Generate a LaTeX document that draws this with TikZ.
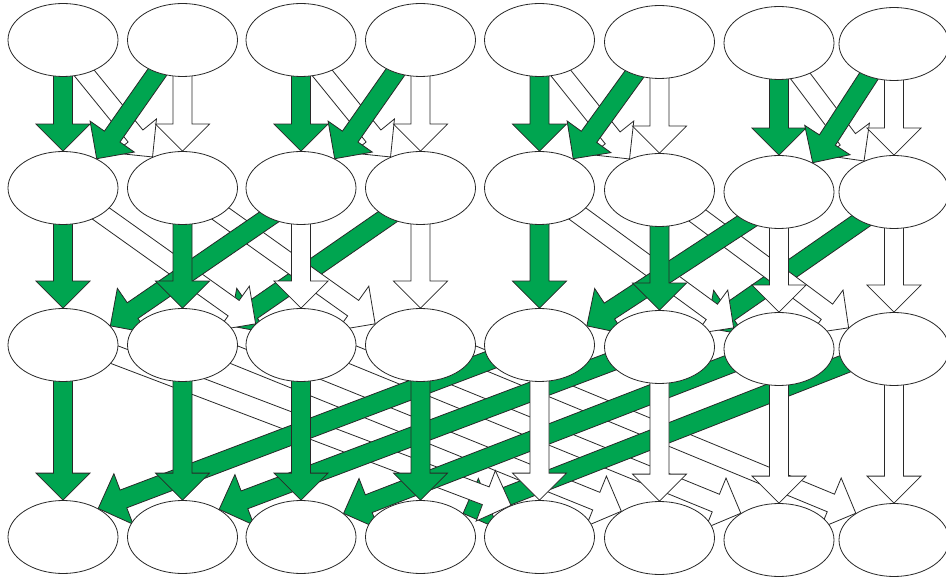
\documentclass[tikz,border=0pt]{standalone}
\usetikzlibrary{shapes.geometric,calc}
\definecolor{grn}{RGB}{0,165,80}
\definecolor{edgec}{RGB}{40,40,40}
\pgfdeclarelayer{bg}
\pgfsetlayers{bg,main}
\tikzset{
  cell/.style={ellipse, draw=edgec, fill=white, line width=0.8pt, minimum width=110pt, minimum height=73pt, inner sep=0pt},
  blk/.style={draw=edgec, line width=0.8pt, line join=miter},
}
\newcommand\barrow[3]{%
  \path ($(#3)!27pt!(#2)$) coordinate (bh) ($(#2)!-8pt!(#3)$) coordinate (bs);
  \filldraw[blk, fill=#1] ($(bs)!9.5pt!90:(#3)$) -- ($(bh)!9.5pt!90:(#3)$) -- ($(bh)!27pt!90:(#3)$) -- (#3) -- ($(bh)!27pt!-90:(#3)$) -- ($(bh)!9.5pt!-90:(#3)$) -- ($(bs)!9.5pt!-90:(#3)$) -- cycle;
}
\begin{document}
\begin{tikzpicture}[x=1pt,y=-1pt]
\useasboundingbox (0,0) rectangle (946,580);
\foreach \i/\x/\ya/\yb/\yc/\yd in {1/63/40/188/345/537, 2/182.5/40/188/345/537, 3/301/40/188/345/537, 4/420.5/40/188/345/537, 5/539.5/40/188/345/537, 6/659.5/42/190/347/538, 7/779/43/192/349/540, 8/894/44/192/349/540} {
  \node[cell] (a\i) at (\x,\ya) {};
  \node[cell] (b\i) at (\x,\yb) {};
  \node[cell] (c\i) at (\x,\yc) {};
  \node[cell] (d\i) at (\x,\yd) {};
}
\begin{pgfonlayer}{bg}
% stage 1
\foreach \p/\q in {1/2,3/4,5/6,7/8} {
  \barrow{white}{a\p.-57}{b\q.134}
  \barrow{white}{a\q.south}{b\q.north}
  \barrow{grn}{a\p.south}{b\p.north}
  \barrow{grn}{a\q.232}{b\p.41}
}
% stage 2
\foreach \a/\b/\c/\d in {1/2/3/4,5/6/7/8} {
  \barrow{grn}{b\d.221}{c\b.22}
  \barrow{white}{b\a.-34}{c\c.155}
  \barrow{white}{b\b.-34}{c\d.155}
  \barrow{grn}{b\c.222}{c\a.22}
  \barrow{grn}{b\a.south}{c\a.north}
  \barrow{grn}{b\b.south}{c\b.north}
  \barrow{white}{b\c.south}{c\c.north}
  \barrow{white}{b\d.south}{c\d.north}
}
% stage 3
\barrow{white}{c2.-11}{d6.145}
\barrow{white}{c3.-11}{d7.145}
\barrow{white}{c4.-11}{d8.145}
\barrow{grn}{c8.197}{d4.29}
\barrow{white}{c1.-11}{d5.132}
\barrow{grn}{c5.197}{d1.39}
\barrow{grn}{c6.197}{d2.37}
\barrow{grn}{c7.197}{d3.29}
\foreach \k in {1,2,3,4} {\barrow{grn}{c\k.south}{d\k.north}}
\foreach \k in {5,6,7,8} {\barrow{white}{c\k.south}{d\k.north}}
\end{pgfonlayer}
\end{tikzpicture}
\end{document}
